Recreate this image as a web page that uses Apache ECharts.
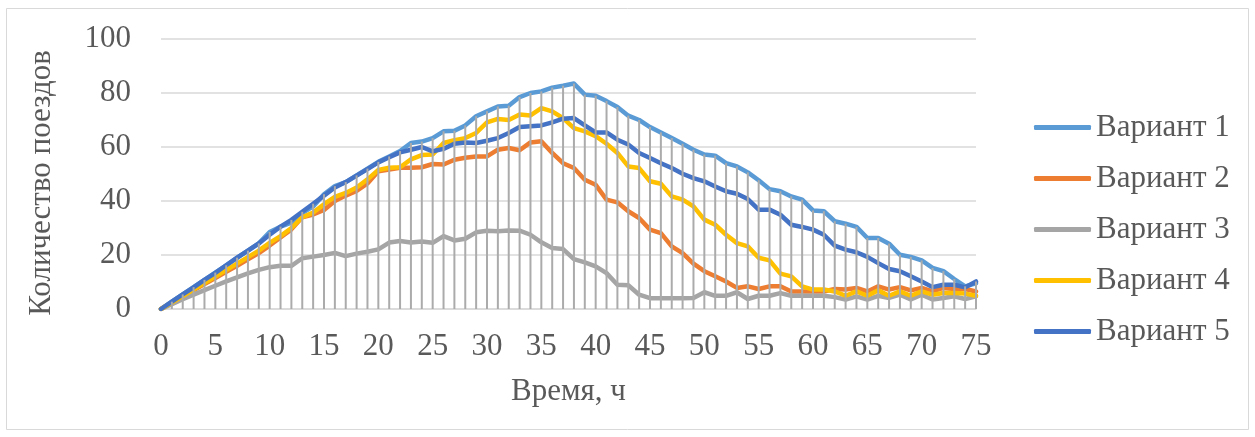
<!DOCTYPE html>
<html>
<head>
<meta charset="utf-8">
<script src="https://cdn.jsdelivr.net/npm/echarts@6/dist/echarts.min.js"></script>
<style>
html,body{margin:0;padding:0;background:#fff;}
#chart{width:1255px;height:437px;}
</style>
</head>
<body>
<div id="chart"></div>
<script>
const hours = ['0','1','2','3','4','5','6','7','8','9','10','11','12','13','14','15','16','17','18','19','20','21','22','23','24','25','26','27','28','29','30','31','32','33','34','35','36','37','38','39','40','41','42','43','44','45','46','47','48','49','50','51','52','53','54','55','56','57','58','59','60','61','62','63','64','65','66','67','68','69','70','71','72','73','74','75'];

const variant1 = [0,2.7,5.4,8.1,10.8,13.5,16.2,18.9,21.6,24.3,28.5,30.5,32,35.5,38,42.5,45.5,47,49.5,52,54.5,56.5,58.5,61.5,62,63.3,65.8,66,68,71.4,73.2,75,75.3,78.5,80,80.6,82,82.7,83.5,79.4,79,77,74.8,71.6,70,67.4,65.4,63.3,61.2,59,57.2,56.8,54,52.8,50.6,47.7,44.4,43.6,41.7,40.5,36.5,36.2,32.5,31.6,30.4,26.3,26.3,24.2,20.1,19.3,18,15.2,14,11.1,8.4,9.5];

const variant2 = [0,2.3,4.6,6.9,9.2,11.5,13.8,16,18.4,20.7,23.5,26.5,29.5,34,35,36.7,40,42,43.7,46.5,51,51.7,52.3,52.3,52.5,53.7,53.5,55.3,56,56.5,56.5,59,59.6,58.8,61.7,62.1,57.8,54,52.2,47.9,46,40.5,39.5,36.2,33.7,29.4,28.1,23.2,20.7,16.8,14,12.1,10.2,7.8,8.4,7.4,8.4,8.4,6.5,6.5,6.5,6.5,7.4,7.2,7.8,6.5,8.4,7.2,8.1,6.9,7.8,6.5,7.8,7.4,7.4,6.5];

const variant3 = [0,1.8,3.6,5.3,7,8.6,10.2,11.7,13.2,14.5,15.5,16,16,18.8,19.4,20,20.8,19.6,20.5,21.2,22.1,24.6,25.2,24.6,25,24.5,27,25.4,26,28.4,29,28.8,29.1,29,27.5,24.7,22.6,22.2,18.5,17.3,15.8,13.3,9,8.8,5.3,4,4,4,4,4.1,6.2,4.9,4.9,6.2,3.7,4.9,4.9,5.9,4.9,4.9,4.9,4.9,4.4,3.5,4.7,3.5,4.9,4.1,5.3,3.5,5.3,3.5,4.1,4.7,3.7,4.7];

const variant4 = [0,2.4,4.8,7.2,9.6,12,14.4,16.8,19.2,21.6,24.5,27,30,34,35.7,38.8,41.5,43,45,48,51.5,52.3,52.5,55.4,57,57.2,61.5,62.5,63.3,65.2,69.1,70.4,70,72,71.7,74.4,73.2,70.7,67,65.8,64,61.2,57.8,52.8,52.2,47.3,46.4,41.7,40.5,38,33.1,31.2,27.5,24.4,23.2,19,18,13.1,12.1,8.4,7.2,7.2,6.5,4.9,6.5,4.9,6.9,4.9,6.5,4.9,6.5,5.3,5.9,5.9,5.7,4.9];

const variant5 = [0,2.7,5.4,8,10.8,13.4,16.2,19,21.6,24.3,27.5,30.5,33,36,39,42,45,47,49.4,51.8,54.3,56.2,58,59,60,58.4,59.3,61.2,61.7,61.5,62.3,63.3,65.2,67.4,67.7,68,69.1,70.5,70.7,68,65.4,65.4,62.7,60.9,57.8,55.9,54,52.2,50.1,48.5,47.3,45.4,43.6,42.7,40.7,36.8,36.8,34.9,31.2,30.4,29.4,27.5,23.5,22,21,19.3,17,14.8,14,12.1,10.2,8.1,9,9,8,10.2];

const seriesNames = ['Вариант 1','Вариант 2','Вариант 3','Вариант 4','Вариант 5'];
const seriesColors = ['#5B9BD5','#ED7D31','#A5A5A5','#FFC000','#4472C4'];
const yTicks = [0,20,40,60,80,100];
const xTitle = 'Время, ч';
const yTitle = 'Количество поездов';

const allSeries = [variant1, variant2, variant3, variant4, variant5];
// drop lines: from axis to the highest point at each hour
const dropTop = hours.map((h, i) => Math.max(...allSeries.map(s => s[i])));

const FONT = '"Liberation Serif", "Times New Roman", serif';
const chart = echarts.init(document.getElementById('chart'), null, {renderer: 'canvas'});

const lineSeries = allSeries.map((d, k) => ({
  name: seriesNames[k],
  type: 'line',
  data: d,
  symbol: 'none',
  smooth: false,
  color: seriesColors[k],
  lineStyle: {width: 4.5, color: seriesColors[k], join: 'round', cap: 'round'},
  z: 2,
  animation: false
}));

chart.setOption({
  animation: false,
  backgroundColor: '#ffffff',
  textStyle: {fontFamily: FONT},
  grid: {left: 161, right: 279, top: 39, bottom: 128, containLabel: false},
  legend: {
    data: seriesNames,
    orient: 'vertical',
    left: 1029,
    top: 107,
    itemWidth: 57,
    itemHeight: 5,
    itemGap: 20,
    icon: 'roundRect',
    textStyle: {fontFamily: FONT, fontSize: 31, color: '#595959'}
  },
  xAxis: {
    type: 'category',
    data: hours,
    boundaryGap: false,
    axisLine: {show: true, lineStyle: {color: '#D9D9D9', width: 1.5}},
    axisTick: {show: false},
    axisLabel: {interval: 4, margin: 22, fontFamily: FONT, fontSize: 31, color: '#595959'},
    splitLine: {show: false},
    name: xTitle,
    nameLocation: 'middle',
    nameGap: 67,
    nameTextStyle: {fontFamily: FONT, fontSize: 31, color: '#595959'}
  },
  yAxis: {
    type: 'value',
    min: yTicks[0],
    max: yTicks[yTicks.length - 1],
    interval: yTicks[1] - yTicks[0],
    axisLine: {show: false},
    axisTick: {show: false},
    axisLabel: {margin: 30, fontFamily: FONT, fontSize: 31, color: '#595959'},
    splitLine: {lineStyle: {color: '#D9D9D9', width: 1.5}}
  },
  graphic: [
    {
      type: 'rect',
      shape: {x: 6.5, y: 8.5, width: 1242, height: 421},
      style: {fill: 'none', stroke: '#D9D9D9', lineWidth: 1},
      silent: true,
      z: -10
    },
    {
      type: 'text',
      x: 42,
      y: 183,
      rotation: Math.PI / 2,
      style: {text: yTitle, font: '31px ' + FONT, fill: '#595959', textAlign: 'center', textVerticalAlign: 'middle'},
      silent: true
    }
  ],
  series: lineSeries.concat([{
    name: 'drop',
    type: 'bar',
    data: dropTop,
    barWidth: 2,
    itemStyle: {color: '#ABABAB'},
    z: 5,
    silent: true,
    animation: false
  }])
});
</script>
</body>
</html>
